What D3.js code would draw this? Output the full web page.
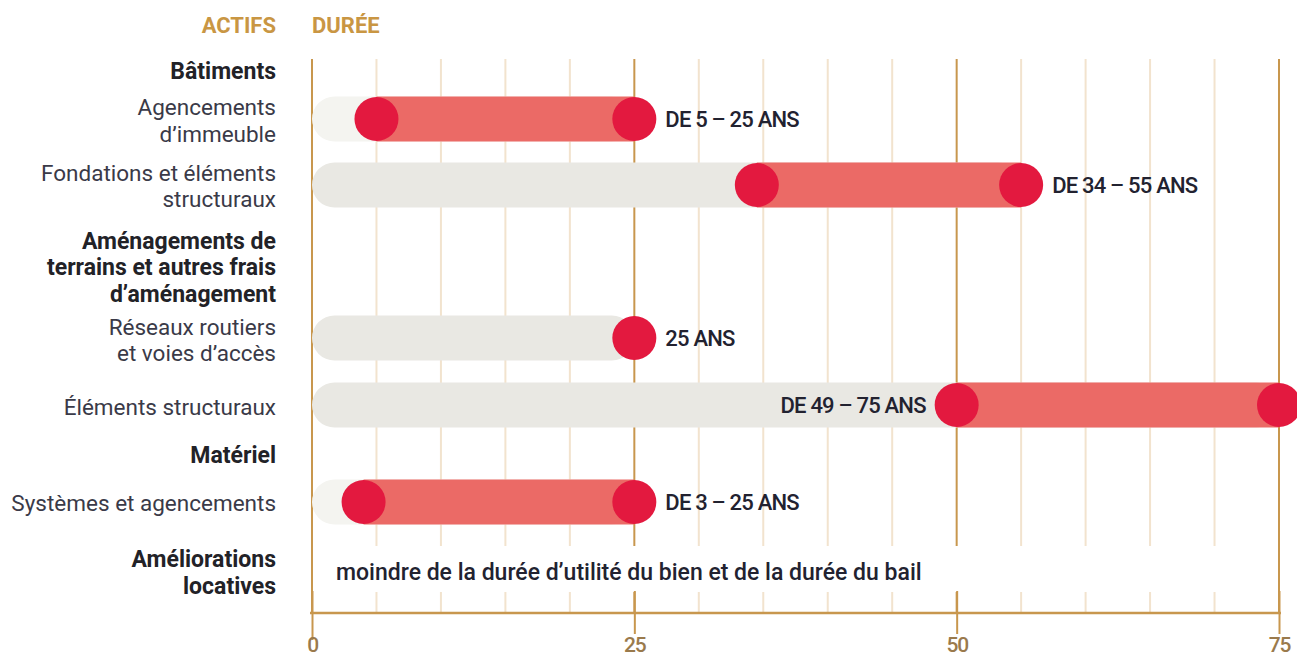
<!DOCTYPE html>
<html>
<head>
<meta charset="utf-8">
<script src="https://cdn.jsdelivr.net/npm/d3@7"></script>
<style>
  html, body { margin: 0; padding: 0; background: #fff; }
  svg { display: block; }
  text { font-family: Roboto, "Noto Sans", "DejaVu Sans", sans-serif; }
</style>
</head>
<body>
<svg id="chart" width="1297" height="658"></svg>
<script>
// ---------------- DATA ----------------
const categories = [
  "Bâtiments",
  "Agencements d’immeuble",
  "Fondations et éléments structuraux",
  "Aménagements de terrains et autres frais d’aménagement",
  "Réseaux routiers et voies d’accès",
  "Éléments structuraux",
  "Matériel",
  "Systèmes et agencements",
  "Améliorations locatives"
];
const isGroup = [true, false, false, true, false, false, true, false, true];
// duration ranges in years (as drawn)
const rangeMin = [null, 5, 34.5, null, null, 50, null, 4, null];
const rangeMax = [null, 25, 55, null, 25, 75, null, 25, null];
const durationLabels = [
  null,
  "DE 5 – 25 ANS",
  "DE 34 – 55 ANS",
  null,
  "25 ANS",
  "DE 49 – 75 ANS",
  null,
  "DE 3 – 25 ANS",
  "moindre de la durée d’utilité du bien et de la durée du bail"
];
const xTicks = [0, 25, 50, 75];
const gridStep = 5;
const headerLeft = "ACTIFS";
const headerRight = "DURÉE";

// ---------------- LAYOUT ----------------
const W = 1297, H = 658;
const labelRight = 276;
const wrapped = [
  ["Bâtiments"],
  ["Agencements", "d’immeuble"],
  ["Fondations et éléments", "structuraux"],
  ["Aménagements de", "terrains et autres frais", "d’aménagement"],
  ["Réseaux routiers", "et voies d’accès"],
  ["Éléments structuraux"],
  ["Matériel"],
  ["Systèmes et agencements"],
  ["Améliorations", "locatives"]
];
const rowCenter = [71, 119, 185, 267, 338, 405, 455, 502, 572];
const labelCenter = [71, 120.5, 186, 267, 340, 406.5, 455, 503, 572];
const lineH = 26.5;
const lightPill = [false, true, false, false, false, false, false, true, false];

const svg = d3.select("#chart");
const x = d3.scaleLinear().domain([0, 75]).range([312, 1279]);

const gridTop = 59, axisY = 613;
const gold = "#c8974e", goldLight = "#f2e3ce";

// gridlines
const gridVals = d3.range(0, 75 + 0.001, gridStep);
const grid = svg.append("g");
grid.selectAll("line").data(gridVals).join("line")
  .attr("x1", d => x(d)).attr("x2", d => x(d))
  .attr("y1", gridTop).attr("y2", axisY)
  .attr("stroke", d => xTicks.includes(d) ? gold : goldLight)
  .attr("stroke-width", 2);

// white gap behind the last text row
svg.append("rect")
  .attr("x", x(0) + 1.5).attr("width", x(75) - x(0) - 3)
  .attr("y", 546).attr("height", 46).attr("fill", "#fff");

// axis
const axis = d3.axisBottom(x).tickValues(xTicks).tickSize(21).tickPadding(3).tickSizeOuter(0);
const gAxis = svg.append("g").attr("transform", `translate(0,${axisY})`).call(axis);
gAxis.select(".domain").attr("stroke", gold).attr("stroke-width", 2.5)
  .attr("d", `M${x(0) - 2},0H${x(75) + 2}`);
gAxis.selectAll(".tick line").attr("stroke", gold).attr("stroke-width", 2)
  .attr("y1", -22).attr("y2", d => d === 0 ? 27 : 21);
gAxis.selectAll(".tick text")
  .attr("fill", "#9a7a4c")
  .style("font-family", "Roboto, sans-serif")
  .style("font-size", "21px")
  .style("font-weight", 500)
  .style("letter-spacing", "-1.2px");

// headers
svg.append("text").text(headerLeft)
  .attr("x", labelRight).attr("y", 25).attr("dy", "0.35em")
  .attr("text-anchor", "end").attr("fill", "#c99643")
  .style("font-size", "22px").style("font-weight", 700);
svg.append("text").text(headerRight)
  .attr("x", x(0)).attr("y", 25).attr("dy", "0.35em")
  .attr("fill", "#c99643")
  .style("font-size", "22px").style("font-weight", 700);

// category labels
categories.forEach((c, i) => {
  const lines = wrapped[i];
  const t = svg.append("text")
    .attr("text-anchor", "end")
    .attr("fill", isGroup[i] ? "#222227" : "#3a3a48")
    .style("font-size", isGroup[i] ? "23px" : "22.5px")
    .style("font-weight", isGroup[i] ? 700 : 400)
    .style("letter-spacing", "0px");
  const y0 = labelCenter[i] - (lines.length - 1) * lineH / 2;
  lines.forEach((l, k) => {
    t.append("tspan").attr("x", labelRight).attr("y", y0 + k * lineH).attr("dy", "0.36em").text(l);
  });
});

// bars
const barH = 45, dotR = 22;
const rows = categories.map((c, i) => ({ i, min: rangeMin[i], max: rangeMax[i], label: durationLabels[i] }))
  .filter(d => d.max !== null);

const gBars = svg.append("g");
gBars.selectAll("rect.pill").data(rows).join("rect").attr("class", "pill")
  .attr("x", x(0)).attr("y", d => rowCenter[d.i] - barH / 2)
  .attr("width", d => x(d.max) - x(0)).attr("height", barH)
  .attr("rx", barH / 2)
  .attr("fill", d => lightPill[d.i] ? "#f4f4f0" : "#e9e8e3");

gBars.selectAll("rect.range").data(rows.filter(d => d.min !== null)).join("rect").attr("class", "range")
  .attr("x", d => x(d.min)).attr("y", d => rowCenter[d.i] - barH / 2)
  .attr("width", d => x(d.max) - x(d.min)).attr("height", barH)
  .attr("fill", "#eb6a66");

const dots = [];
rows.forEach(d => {
  if (d.min !== null) dots.push({ i: d.i, v: d.min });
  dots.push({ i: d.i, v: d.max });
});
gBars.selectAll("circle").data(dots).join("circle")
  .attr("cx", d => x(d.v)).attr("cy", d => rowCenter[d.i]).attr("r", dotR)
  .attr("fill", "#e3193f");

// value labels
gBars.selectAll("text.val").data(rows).join("text").attr("class", "val")
  .attr("x", d => d.max === 75 ? x(d.min) - 31 : x(d.max) + 31)
  .attr("y", d => rowCenter[d.i]).attr("dy", "0.36em")
  .attr("text-anchor", d => d.max === 75 ? "end" : "start")
  .attr("fill", "#222230")
  .style("font-size", "22px").style("font-weight", 500)
  .style("letter-spacing", "-0.8px")
  .text(d => d.label);

// text-only row
categories.forEach((c, i) => {
  if (rangeMax[i] === null && durationLabels[i]) {
    svg.append("text").text(durationLabels[i])
      .attr("x", 336).attr("y", rowCenter[i]).attr("dy", "0.36em")
      .attr("fill", "#222230")
      .style("font-size", "23px").style("font-weight", 500)
      .style("letter-spacing", "0px");
  }
});
</script>
</body>
</html>
